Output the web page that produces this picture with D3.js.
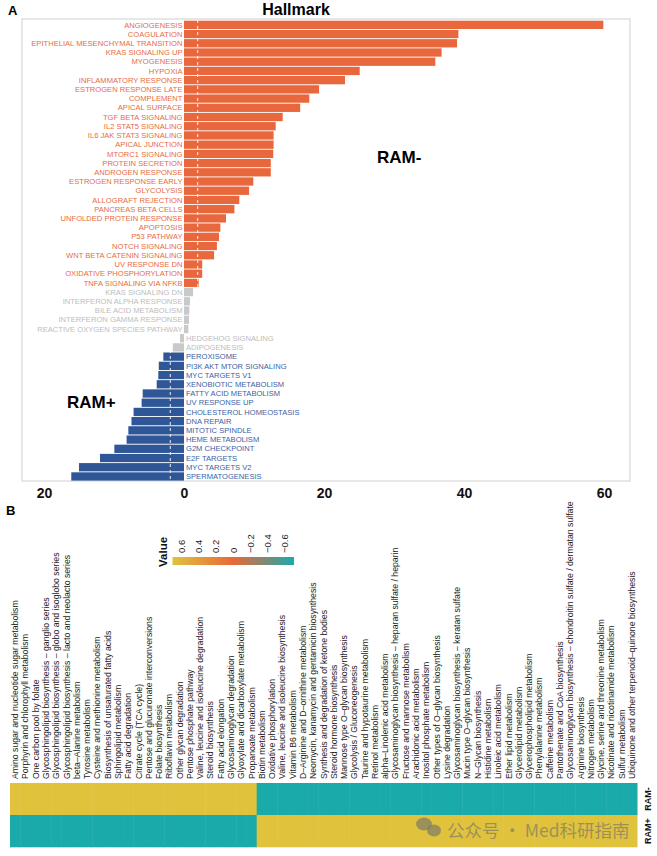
<!DOCTYPE html>
<html>
<head>
<meta charset="utf-8">
<script src="https://cdn.jsdelivr.net/npm/d3@7"></script>
<style>
  html, body { margin: 0; padding: 0; background: #fff; }
  svg { display: block; font-family: "Liberation Sans", Arial, sans-serif; }
</style>
</head>
<body>
<svg id="chart" width="657" height="856"></svg>
<script>
// ---------- Panel A data ----------
const hallmarkNames = [
  "ANGIOGENESIS","COAGULATION","EPITHELIAL MESENCHYMAL TRANSITION","KRAS SIGNALING UP",
  "MYOGENESIS","HYPOXIA","INFLAMMATORY RESPONSE","ESTROGEN RESPONSE LATE","COMPLEMENT",
  "APICAL SURFACE","TGF BETA SIGNALING","IL2 STAT5 SIGNALING","IL6 JAK STAT3 SIGNALING",
  "APICAL JUNCTION","MTORC1 SIGNALING","PROTEIN SECRETION","ANDROGEN RESPONSE",
  "ESTROGEN RESPONSE EARLY","GLYCOLYSIS","ALLOGRAFT REJECTION","PANCREAS BETA CELLS",
  "UNFOLDED PROTEIN RESPONSE","APOPTOSIS","P53 PATHWAY","NOTCH SIGNALING",
  "WNT BETA CATENIN SIGNALING","UV RESPONSE DN","OXIDATIVE PHOSPHORYLATION",
  "TNFA SIGNALING VIA NFKB","KRAS SIGNALING DN","INTERFERON ALPHA RESPONSE",
  "BILE ACID METABOLISM","INTERFERON GAMMA RESPONSE","REACTIVE OXYGEN SPECIES PATHWAY",
  "HEDGEHOG SIGNALING","ADIPOGENESIS","PEROXISOME","PI3K AKT MTOR SIGNALING",
  "MYC TARGETS V1","XENOBIOTIC METABOLISM","FATTY ACID METABOLISM","UV RESPONSE UP",
  "CHOLESTEROL HOMEOSTASIS","DNA REPAIR","MITOTIC SPINDLE","HEME METABOLISM",
  "G2M CHECKPOINT","E2F TARGETS","MYC TARGETS V2","SPERMATOGENESIS"
];
const hallmarkValues = [
  59.9, 39.2, 39.0, 36.8, 35.9, 25.1, 23.0, 19.3, 17.9, 16.6,
  14.1, 13.1, 12.8, 12.8, 12.75, 12.4, 12.4, 9.9, 9.3, 7.9,
  7.2, 6.0, 5.2, 5.0, 4.7, 4.3, 2.6, 2.6, 2.1, 1.3,
  0.86, 0.76, 0.71, 0.62, -0.57, -1.6, -2.95, -3.6, -3.67, -3.9,
  -5.9, -6.05, -7.2, -7.5, -7.95, -8.2, -9.95, -12.0, -15.0, -16.1
];
const axisTicks = [-20, 0, 20, 40, 60];
const threshold = 1.96;

// ---------- Panel B data ----------
const pathways = [
  "Amino sugar and nucleotide sugar metabolism",
  "Porphyrin and chlorophyll metabolism",
  "One carbon pool by folate",
  "Glycosphingolipid biosynthesis \u2013 ganglio series",
  "Glycosphingolipid biosynthesis \u2013 globo and isoglobo series",
  "Glycosphingolipid biosynthesis \u2013 lacto and neolacto series",
  "beta\u2013Alanine metabolism",
  "Tyrosine metabolism",
  "Cysteine and methionine metabolism",
  "Biosynthesis of unsaturated fatty acids",
  "Sphingolipid metabolism",
  "Fatty acid degradation",
  "Citrate cycle (TCA cycle)",
  "Pentose and glucuronate interconversions",
  "Folate biosynthesis",
  "Riboflavin metabolism",
  "Other glycan degradation",
  "Pentose phosphate pathway",
  "Valine, leucine and isoleucine degradation",
  "Steroid biosynthesis",
  "Fatty acid elongation",
  "Glycosaminoglycan degradation",
  "Glyoxylate and dicarboxylate metabolism",
  "Propanoate metabolism",
  "Biotin metabolism",
  "Oxidative phosphorylation",
  "Valine, leucine and isoleucine biosynthesis",
  "Vitamin B6 metabolism",
  "D\u2013Arginine and D\u2013ornithine metabolism",
  "Neomycin, kanamycin and gentamicin biosynthesis",
  "Synthesis and degradation of ketone bodies",
  "Steroid hormone biosynthesis",
  "Mannose type O\u2013glycan biosynthesis",
  "Glycolysis / Gluconeogenesis",
  "Taurine and hypotaurine metabolism",
  "Retinol metabolism",
  "alpha\u2013Linolenic acid metabolism",
  "Glycosaminoglycan biosynthesis \u2013 heparan sulfate / heparin",
  "Fructose and mannose metabolism",
  "Arachidonic acid metabolism",
  "Inositol phosphate metabolism",
  "Other types of O\u2013glycan biosynthesis",
  "Lysine degradation",
  "Glycosaminoglycan biosynthesis \u2013 keratan sulfate",
  "Mucin type O\u2013glycan biosynthesis",
  "N\u2013Glycan biosynthesis",
  "Histidine metabolism",
  "Linoleic acid metabolism",
  "Ether lipid metabolism",
  "Glycerolipid metabolism",
  "Glycerophospholipid metabolism",
  "Phenylalanine metabolism",
  "Caffeine metabolism",
  "Pantothenate and CoA biosynthesis",
  "Glycosaminoglycan biosynthesis \u2013 chondroitin sulfate / dermatan sulfate",
  "Arginine biosynthesis",
  "Nitrogen metabolism",
  "Glycine, serine and threonine metabolism",
  "Nicotinate and nicotinamide metabolism",
  "Sulfur metabolism",
  "Ubiquinone and other terpenoid\u2013quinone biosynthesis"
];
const samples = ["RAM-", "RAM+"];
const ramMinusValues = [
  0.707, 0.707, 0.707, 0.707, 0.707, 0.707, 0.707, 0.707, 0.707, 0.707,
  0.707, 0.707, 0.707, 0.707, 0.707, 0.707, 0.707, 0.707, 0.707, 0.707,
  0.707, 0.707, 0.707, 0.707, -0.707, -0.707, -0.707, -0.707, -0.707, -0.707,
  -0.707, -0.707, -0.707, -0.707, -0.707, -0.707, -0.707, -0.707, -0.707, -0.707,
  -0.707, -0.707, -0.707, -0.707, -0.707, -0.707, -0.707, -0.707, -0.707, -0.707,
  -0.707, -0.707, -0.707, -0.707, -0.707, -0.707, -0.707, -0.707, -0.707, -0.707,
  -0.707
];
const ramPlusValues = [
  -0.707, -0.707, -0.707, -0.707, -0.707, -0.707, -0.707, -0.707, -0.707, -0.707,
  -0.707, -0.707, -0.707, -0.707, -0.707, -0.707, -0.707, -0.707, -0.707, -0.707,
  -0.707, -0.707, -0.707, -0.707, 0.707, 0.707, 0.707, 0.707, 0.707, 0.707,
  0.707, 0.707, 0.707, 0.707, 0.707, 0.707, 0.707, 0.707, 0.707, 0.707,
  0.707, 0.707, 0.707, 0.707, 0.707, 0.707, 0.707, 0.707, 0.707, 0.707,
  0.707, 0.707, 0.707, 0.707, 0.707, 0.707, 0.707, 0.707, 0.707, 0.707,
  0.707
];
const legendTicks = [0.6, 0.4, 0.2, 0, -0.2, -0.4, -0.6];

// ---------- Drawing ----------
const svg = d3.select("#chart");
const ORANGE = "#E8673C", BLUE = "#2F5697", GREY = "#C9C9C9";
const ORANGE_T = "#E86B42", BLUE_T = "#3B5FA3", GREY_T = "#BDBDBD";

// Panel A
const x = d3.scaleLinear().domain([-23.14, 63.71]).range([22, 630]);
const y = d3.scaleBand().domain(hallmarkNames).range([20.7, 480.6]).paddingInner(0.1);
const hData = hallmarkNames.map((n, i) => ({ name: n, value: hallmarkValues[i] }));
const colorOf = v => v > threshold ? ORANGE : (v < -threshold ? BLUE : GREY);
const tcolorOf = v => v > threshold ? ORANGE_T : (v < -threshold ? BLUE_T : GREY_T);

svg.append("text").attr("x", 8).attr("y", 15).attr("font-size", 13).attr("font-weight", "bold").text("A");
svg.append("text").attr("x", 296).attr("y", 15).attr("text-anchor", "middle")
  .attr("font-size", 16).attr("font-weight", "bold").text("Hallmark");

svg.append("rect").attr("x", x.range()[0]).attr("y", 19).attr("width", x.range()[1] - x.range()[0])
  .attr("height", 462).attr("fill", "none").attr("stroke", "#CFCFCF").attr("stroke-width", 1);

const gA = svg.append("g");
gA.selectAll("rect.bar").data(hData).join("rect").attr("class", "bar")
  .attr("x", d => x(Math.min(0, d.value)))
  .attr("width", d => Math.abs(x(d.value) - x(0)))
  .attr("y", d => y(d.name)).attr("height", y.bandwidth())
  .attr("fill", d => colorOf(d.value));

[threshold, -threshold].forEach(t => {
  gA.append("line").attr("x1", x(t)).attr("x2", x(t)).attr("y1", 20).attr("y2", 480)
    .attr("stroke", "#fff").attr("stroke-width", 1).attr("stroke-dasharray", "3,3").attr("opacity", 0.9);
});

gA.selectAll("text.lab").data(hData).join("text").attr("class", "lab")
  .attr("x", d => d.value >= 0 ? x(0) - 1.5 : x(0) + 2)
  .attr("y", d => y(d.name) + y.bandwidth() / 2)
  .attr("dy", "0.35em")
  .attr("text-anchor", d => d.value >= 0 ? "end" : "start")
  .attr("font-size", 7.6)
  .attr("fill", d => tcolorOf(d.value))
  .text(d => d.name);

const xAxis = d3.axisBottom(x).tickValues(axisTicks).tickFormat(d => Math.abs(d)).tickSize(0).tickPadding(6);
const ax = svg.append("g").attr("transform", "translate(0,482)").call(xAxis);
ax.select(".domain").remove();
ax.selectAll("text").attr("font-size", 14).attr("font-weight", "bold").attr("fill", "#111")
  .attr("font-family", "Liberation Sans, Arial, sans-serif");

svg.append("text").attr("x", 377).attr("y", 163).attr("font-size", 17).attr("font-weight", "bold").text("RAM-");
svg.append("text").attr("x", 67).attr("y", 408).attr("font-size", 17).attr("font-weight", "bold").text("RAM+");

// Panel B
svg.append("text").attr("x", 6).attr("y", 515).attr("font-size", 13).attr("font-weight", "bold").text("B");

const hx = d3.scaleBand().domain(pathways).range([10, 637]);
const hy = d3.scaleBand().domain(samples).range([783, 847]);
const color = d3.scaleLinear().domain([0.707, 0, -0.707]).range(["#E0C23C", "#E9683A", "#1BAAAA"]);

const cells = [];
pathways.forEach((p, i) => {
  cells.push({ p, s: "RAM-", v: ramMinusValues[i] });
  cells.push({ p, s: "RAM+", v: ramPlusValues[i] });
});
svg.append("g").selectAll("rect").data(cells).join("rect")
  .attr("x", d => hx(d.p)).attr("y", d => hy(d.s))
  .attr("width", hx.bandwidth() + 0.5).attr("height", hy.bandwidth() + 0.3)
  .attr("fill", d => color(d.v));

svg.append("g").selectAll("text").data(pathways).join("text")
  .attr("transform", d => `translate(${hx(d) + hx.bandwidth() / 2},779) rotate(-90)`)
  .attr("dy", "0.35em").attr("font-size", 8.7).attr("fill", "#222")
  .text(d => d);

svg.append("g").selectAll("text").data(samples).join("text")
  .attr("transform", d => `translate(648,${hy(d) + hy.bandwidth() / 2}) rotate(-90)`)
  .attr("dy", "0.35em").attr("text-anchor", "middle").attr("font-size", 9).attr("font-weight", "bold")
  .attr("fill", "#111").text(d => d);

// Legend
const lx = d3.scaleLinear().domain([0.707, -0.707]).range([172.5, 294]);
const defs = svg.append("defs");
const grad = defs.append("linearGradient").attr("id", "lg").attr("x1", "0%").attr("x2", "100%");
d3.range(0, 1.0001, 0.05).forEach(t => {
  const v = 0.707 - t * 1.414;
  grad.append("stop").attr("offset", (t * 100) + "%").attr("stop-color", color(v));
});
svg.append("rect").attr("x", lx(0.707)).attr("y", 557).attr("width", lx(-0.707) - lx(0.707))
  .attr("height", 8).attr("fill", "url(#lg)");
svg.append("g").selectAll("text").data(legendTicks).join("text")
  .attr("transform", d => `translate(${lx(d)},553) rotate(-90)`)
  .attr("dy", "0.35em").attr("font-size", 9.5).attr("fill", "#222")
  .text(d => d3.format(".1~f")(d).replace("-", "\u2212"));
svg.append("text").attr("transform", "translate(167,567) rotate(-90)")
  .attr("font-size", 11.5).attr("font-weight", "bold").attr("fill", "#111").text("Value");

// Watermark
const wm = svg.append("g").attr("fill", "rgba(110,110,110,0.6)");
wm.append("ellipse").attr("cx", 424).attr("cy", 824).attr("rx", 8).attr("ry", 6.5);
wm.append("ellipse").attr("cx", 434).attr("cy", 830.5).attr("rx", 7).attr("ry", 6);
wm.append("text").attr("x", 447).attr("y", 837)
  .attr("font-family", "Noto Sans CJK SC, sans-serif").attr("font-size", 17.5)
  .text("公众号 · Med科研指南");
</script>
</body>
</html>
